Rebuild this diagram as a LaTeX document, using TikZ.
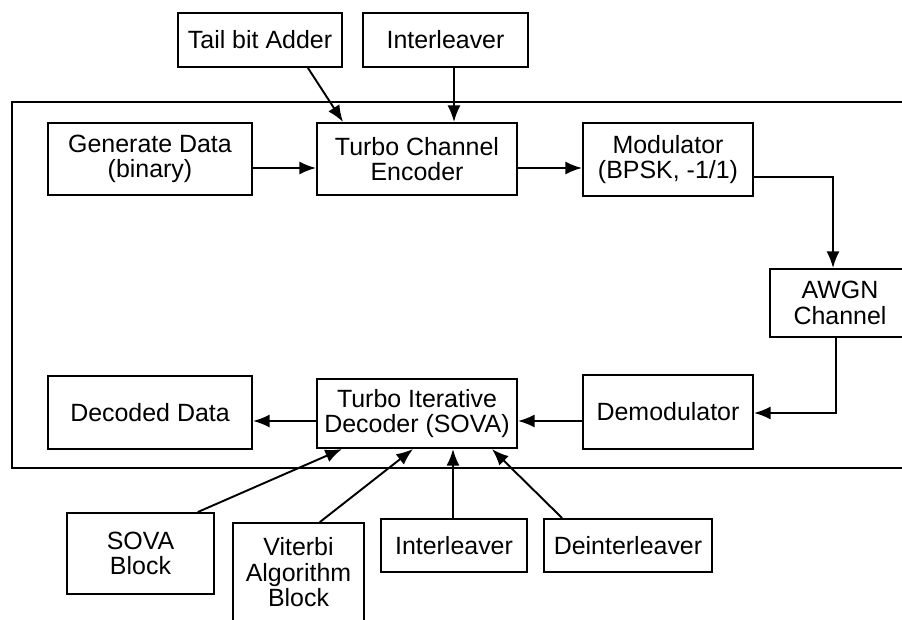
\documentclass[tikz,border=0pt]{standalone}
\usepackage{fontspec}
\setmainfont{Liberation Sans}
\usetikzlibrary{calc,arrows.meta}

\begin{document}
\begin{tikzpicture}[x=0.02cm,y=-0.02cm,line cap=round,>={Latex[length=9.5pt,width=7.5pt]},
    blk/.style={draw,line width=1.2pt,align=center,inner sep=0pt,
                font=\fontsize{14.2}{14.5}\selectfont},
    link/.style={->,line width=1.1pt}]
        \useasboundingbox (0,0) rectangle (902,619);
        % draw the system frame
        \draw[line width=1.2pt] (12,102) rectangle (930,468);
        % blocks above the frame
        \node[blk,minimum width=3.28cm,minimum height=1.08cm] (tail) at (260,40) {Tail bit Adder};
        \node[blk,minimum width=3.3cm,minimum height=1.08cm] (topint) at (445.5,40) {Interleaver};
        % transmit chain
        \node[blk,minimum width=4.08cm,minimum height=1.44cm] (gen) at (150,159) {Generate Data\\(binary)};
        \node[blk,minimum width=4cm,minimum height=1.44cm] (enc) at (417,159) {Turbo Channel\\Encoder};
        \node[blk,minimum width=3.4cm,minimum height=1.46cm] (mod) at (668,159.5) {Modulator\\(BPSK, -1/1)};
        \node[blk,minimum width=2.8cm,minimum height=1.36cm,text width=2.6cm] (awgn) at (840,303) {AWGN\\Channel\hspace*{0.42cm}};
        % receive chain
        \node[blk,minimum width=4.08cm,minimum height=1.46cm] (decdata) at (150,412.5) {Decoded Data};
        \node[blk,minimum width=4cm,minimum height=1.38cm] (decoder) at (417,413.5) {Turbo Iterative\\Decoder (SOVA)};
        \node[blk,minimum width=3.4cm,minimum height=1.48cm] (demod) at (668,412) {Demodulator};
        % blocks below the frame
        \node[blk,minimum width=2.94cm,minimum height=1.62cm] (sova) at (140.5,553.5) {SOVA\\Block};
        \node[blk,minimum width=2.62cm,minimum height=1.98cm] (viterbi) at (298.5,572.5) {Viterbi\\Algorithm\\Block};
        \node[blk,minimum width=2.92cm,minimum height=1.06cm] (int) at (454,545.5) {Interleaver};
        \node[blk,minimum width=3.36cm,minimum height=1.06cm] (deint) at (628,545.5) {Deinterleaver};

        % inputs of the encoder
        \draw[link] ($(tail.south)+(48,0)$) -- ($(enc.north)+(-74,0)$);
        \draw[link] ($(topint.south)+(8.5,0)$) -- ($(enc.north)+(37,0)$);
        % data path
        \draw[link] ($(gen.east)+(0,9)$) -- ($(enc.west)+(0,9)$);
        \draw[link] ($(enc.east)+(0,9)$) -- ($(mod.west)+(0,8.5)$);
        \draw[link] ($(mod.east)+(0,17.5)$) -| ($(awgn.north)+(-7,0)$);
        \draw[link] ($(awgn.south)+(-4,0)$) |- ($(demod.east)+(0,1)$);
        \draw[link] ($(demod.west)+(0,9)$) -- ($(decoder.east)+(0,7.5)$);
        \draw[link] ($(decoder.west)+(0,7.5)$) -- ($(decdata.east)+(0,8.5)$);
        % inputs of the decoder
        \foreach \src/\a/\b in {sova/57.5/-75, viterbi/21.5/-4, int/-1/36, deint/-66/75}
                \draw[link] ($(\src.north)+(\a,0)$) -- ($(decoder.south)+(\b,0)$);
\end{tikzpicture}
\end{document}
